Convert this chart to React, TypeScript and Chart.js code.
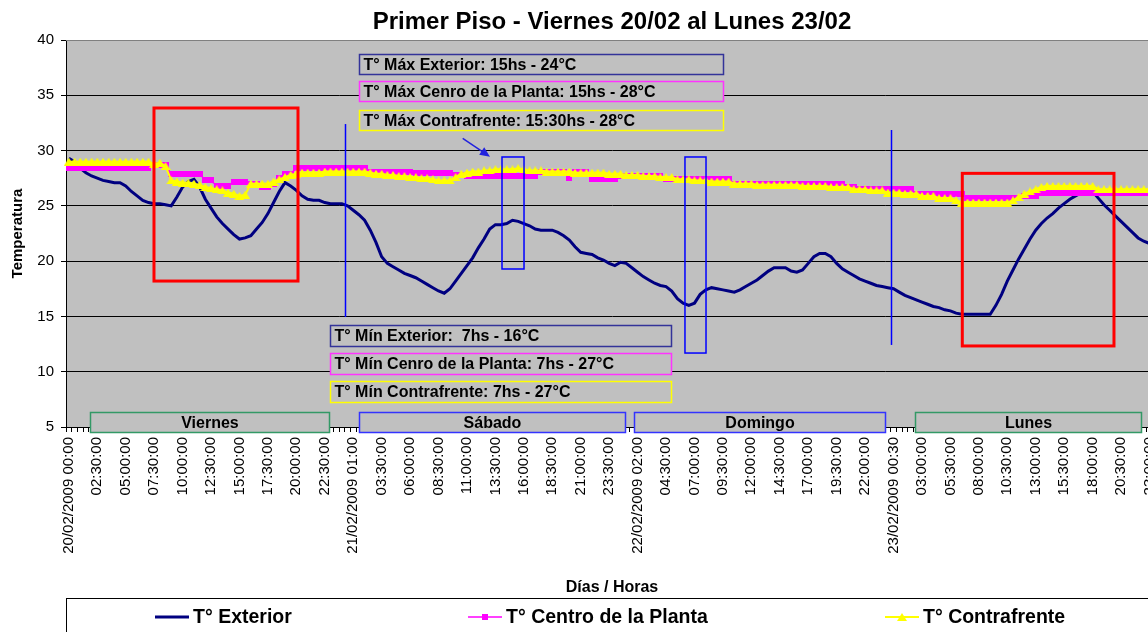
import React, { useEffect, useRef } from 'react';
import { Chart, registerables } from 'chart.js';

Chart.register(...registerables);

// ---------------- DATA ----------------
const TITLE = 'Primer Piso - Viernes 20/02 al Lunes 23/02';
const X_TITLE = 'Días / Horas';
const Y_TITLE = 'Temperatura';
const DAY_DATES = ['20/02/2009', '21/02/2009', '22/02/2009', '23/02/2009'];
const DAY_NAMES = ['Viernes', 'Sábado', 'Domingo', 'Lunes'];

// one category every 30 minutes, 4 days
const CATEGORIES: string[] = [];
DAY_DATES.forEach((d) => {
  for (let h = 0; h < 48; h++) {
    const hh = String(Math.floor(h / 2)).padStart(2, '0');
    const mm = h % 2 ? '30' : '00';
    CATEGORIES.push(`${d} ${hh}:${mm}`);
  }
});

const TICK_EVERY = 5;
const TICK_LABELS = [
  '20/02/2009 00:00', '02:30:00', '05:00:00', '07:30:00', '10:00:00', '12:30:00', '15:00:00', '17:30:00', '20:00:00', '22:30:00',
  '21/02/2009 01:00', '03:30:00', '06:00:00', '08:30:00', '11:00:00', '13:30:00', '16:00:00', '18:30:00', '21:00:00', '23:30:00',
  '22/02/2009 02:00', '04:30:00', '07:00:00', '09:30:00', '12:00:00', '14:30:00', '17:00:00', '19:30:00', '22:00:00',
  '23/02/2009 00:30', '03:00:00', '05:30:00', '08:00:00', '10:30:00', '13:00:00', '15:30:00', '18:00:00', '20:30:00', '23:00:00',
];

const SERIES_NAMES = ['T° Exterior', 'T° Centro de la Planta', 'T° Contrafrente'];

const EXTERIOR = [
  29.3, 29.0, 28.4, 28.0, 27.7, 27.5, 27.3, 27.2, 27.1, 27.1, 26.8, 26.3,
  25.9, 25.5, 25.3, 25.2, 25.2, 25.1, 25.0, 25.8, 26.7, 27.2, 27.4, 26.7,
  25.6, 24.8, 24.0, 23.4, 22.9, 22.4, 22.0, 22.1, 22.3, 22.9, 23.5, 24.3,
  25.3, 26.3, 27.1, 26.8, 26.4, 25.9, 25.6, 25.5, 25.5, 25.3, 25.2, 25.2,
  25.2, 25.0, 24.6, 24.2, 23.7, 22.8, 21.7, 20.4, 19.8, 19.5, 19.2, 18.9,
  18.7, 18.5, 18.2, 17.9, 17.6, 17.3, 17.1, 17.5, 18.2, 18.9, 19.6, 20.3,
  21.2, 22.0, 22.9, 23.3, 23.3, 23.4, 23.7, 23.6, 23.4, 23.2, 22.9, 22.8,
  22.8, 22.8, 22.6, 22.3, 21.9, 21.3, 20.8, 20.7, 20.6, 20.3, 20.1, 19.8,
  19.6, 19.9, 19.8, 19.4, 19.0, 18.6, 18.3, 18.0, 17.8, 17.7, 17.3, 16.6,
  16.2, 16.0, 16.2, 17.0, 17.4, 17.6, 17.5, 17.4, 17.3, 17.2, 17.4, 17.7,
  18.0, 18.3, 18.7, 19.1, 19.4, 19.4, 19.4, 19.1, 19.0, 19.2, 19.8, 20.4,
  20.7, 20.7, 20.4, 19.8, 19.3, 19.0, 18.7, 18.4, 18.2, 18.0, 17.8, 17.7,
  17.6, 17.5, 17.2, 16.9, 16.7, 16.5, 16.3, 16.1, 15.9, 15.8, 15.6, 15.5,
  15.3, 15.2, 15.2, 15.2, 15.2, 15.2, 15.2, 16.0, 17.0, 18.2, 19.2, 20.2,
  21.1, 22.0, 22.8, 23.4, 23.9, 24.3, 24.8, 25.2, 25.6, 25.9, 26.2, 26.4,
  26.3, 25.7, 25.1, 24.6, 24.1, 23.6, 23.1, 22.6, 22.1, 21.8, 21.6, 21.5,
];

const CENTRO = [
  28.4, 28.4, 28.4, 28.4, 28.4, 28.4, 28.4, 28.4, 28.4, 28.4, 28.4, 28.4,
  28.4, 28.4, 28.4, 28.7, 28.7, 28.7, 27.9, 27.9, 27.9, 27.9, 27.9, 27.9,
  27.3, 27.3, 26.8, 26.8, 26.8, 27.2, 27.2, 27.2, 27.0, 27.0, 26.7, 26.7,
  27.0, 27.5, 27.9, 27.9, 28.4, 28.4, 28.4, 28.4, 28.4, 28.4, 28.4, 28.4,
  28.4, 28.4, 28.4, 28.4, 28.4, 28.1, 28.1, 28.1, 28.1, 28.1, 28.1, 28.1,
  28.1, 28.0, 28.0, 28.0, 28.0, 28.0, 28.0, 28.0, 27.8, 27.8, 27.7, 27.7,
  27.7, 27.7, 27.7, 27.7, 27.7, 27.7, 27.7, 27.7, 27.7, 27.7, 27.7, 28.1,
  28.1, 28.1, 28.1, 28.1, 27.5, 28.1, 28.1, 28.1, 27.4, 27.4, 27.4, 27.4,
  27.4, 27.7, 27.7, 27.7, 27.7, 27.7, 27.7, 27.7, 27.7, 27.4, 27.4, 27.4,
  27.4, 27.4, 27.4, 27.4, 27.4, 27.4, 27.4, 27.4, 27.4, 27.0, 27.0, 27.0,
  27.0, 27.0, 27.0, 27.0, 27.0, 27.0, 27.0, 27.0, 27.0, 27.0, 27.0, 27.0,
  27.0, 27.0, 27.0, 27.0, 27.0, 26.7, 26.7, 26.5, 26.5, 26.5, 26.5, 26.5,
  26.5, 26.5, 26.5, 26.5, 26.5, 26.1, 26.1, 26.1, 26.1, 26.1, 26.1, 26.1,
  26.1, 26.1, 25.7, 25.7, 25.7, 25.7, 25.7, 25.7, 25.7, 25.7, 25.7, 25.7,
  25.9, 25.9, 25.9, 26.2, 26.2, 26.2, 26.2, 26.2, 26.2, 26.2, 26.2, 26.2,
  26.2, 26.2, 26.2, 26.2, 26.2, 26.2, 26.2, 26.2, 26.2, 26.2, 26.2, 26.2,
];

const CONTRAFRENTE = [
  29.0, 29.0, 29.0, 29.0, 29.0, 29.0, 29.0, 29.0, 29.0, 29.0, 29.0, 29.0,
  29.0, 29.0, 29.0, 28.8, 28.9, 28.6, 27.3, 27.2, 27.1, 27.1, 27.0, 26.9,
  26.7, 26.6, 26.5, 26.4, 26.2, 26.1, 25.9, 26.0, 27.0, 27.0, 27.0, 27.0,
  27.2, 27.4, 27.6, 27.8, 27.9, 28.0, 28.0, 28.0, 28.0, 28.1, 28.1, 28.1,
  28.1, 28.1, 28.1, 28.1, 28.1, 28.0, 27.9, 27.9, 27.8, 27.8, 27.7, 27.7,
  27.6, 27.6, 27.5, 27.5, 27.4, 27.3, 27.3, 27.3, 27.6, 27.9, 28.0, 28.1,
  28.1, 28.2, 28.2, 28.3, 28.3, 28.3, 28.3, 28.4, 28.3, 28.2, 28.2, 28.2,
  28.1, 28.1, 28.1, 28.1, 28.1, 28.0, 28.0, 28.0, 28.0, 28.0, 28.0, 27.9,
  27.9, 27.9, 27.8, 27.8, 27.8, 27.7, 27.7, 27.7, 27.6, 27.6, 27.6, 27.4,
  27.4, 27.4, 27.3, 27.3, 27.3, 27.2, 27.2, 27.2, 27.2, 27.0, 27.0, 27.0,
  27.0, 26.9, 26.9, 26.9, 26.9, 26.9, 26.9, 26.9, 26.9, 26.8, 26.8, 26.8,
  26.8, 26.8, 26.7, 26.7, 26.7, 26.7, 26.5, 26.5, 26.5, 26.4, 26.4, 26.4,
  26.2, 26.2, 26.2, 26.1, 26.1, 26.1, 25.9, 25.9, 25.9, 25.7, 25.7, 25.7,
  25.5, 25.3, 25.3, 25.3, 25.3, 25.3, 25.3, 25.3, 25.3, 25.3, 25.5, 25.8,
  26.1, 26.3, 26.5, 26.7, 26.8, 26.8, 26.8, 26.8, 26.8, 26.8, 26.8, 26.8,
  26.8, 26.5, 26.5, 26.5, 26.5, 26.5, 26.5, 26.5, 26.5, 26.5, 26.5, 26.5,
];

// annotation boxes (positions in data units: category index / °C)
const NOTES = [
  { text: 'T° Máx Exterior: 15hs - 24°C', x0: 51.0, x1: 115.0, y0: 38.73, y1: 36.93, color: '#333399' },
  { text: 'T° Máx Cenro de la Planta: 15hs - 28°C', x0: 51.0, x1: 115.0, y0: 36.29, y1: 34.48, color: '#FF33FF' },
  { text: 'T° Máx Contrafrente: 15:30hs - 28°C', x0: 51.0, x1: 115.0, y0: 33.67, y1: 31.86, color: '#FFFF00' },
  { text: 'T° Mín Exterior:  7hs - 16°C', x0: 45.9, x1: 105.9, y0: 14.22, y1: 12.33, color: '#333399' },
  { text: 'T° Mín Cenro de la Planta: 7hs - 27°C', x0: 45.9, x1: 105.9, y0: 11.69, y1: 9.79, color: '#FF33FF' },
  { text: 'T° Mín Contrafrente: 7hs - 27°C', x0: 45.9, x1: 105.9, y0: 9.16, y1: 7.26, color: '#FFFF00' },
];
const DAY_BOXES = [
  { x0: 3.7, x1: 45.7, color: '#339966' },
  { x0: 51.0, x1: 97.8, color: '#3333FF' },
  { x0: 99.4, x1: 143.5, color: '#3333FF' },
  { x0: 148.8, x1: 188.5, color: '#339966' },
];
const DAY_BOX_Y = [6.36, 4.55];
const RED_RECTS = [
  { x0: 14.97, x1: 40.29, y0: 33.85, y1: 18.2 },
  { x0: 157.09, x1: 183.76, y0: 27.94, y1: 12.33 },
];
const BLUE_RECTS = [
  { x0: 76.16, x1: 80.03, y0: 29.42, y1: 19.29 },
  { x0: 108.33, x1: 112.03, y0: 29.42, y1: 11.69 },
];
const BLUE_LINES = [
  { x: 48.56, y0: 32.4, y1: 14.95 },
  { x: 144.56, y0: 31.86, y1: 12.42 },
];
const ARROW = { x0: 69.25, y0: 31.11, x1: 74.05, y1: 29.45 };

// ---------------- LAYOUT / STYLE ----------------
const CANVAS_W = 1224;
const CANVAS_H = 660;
const SANS = "'Liberation Sans', Arial, sans-serif";
const PLOT_BG = '#C0C0C0';
const LEGEND_BOX = { x: 66.5, y: 598.5 };
const LEGEND_X = [155, 468, 885];
const LEGEND_Y = 617;
const TITLE_Y = 22;

function makeTriangle(color: string, w: number, h: number) {
  const c = document.createElement('canvas');
  c.width = w;
  c.height = h;
  const g = c.getContext('2d')!;
  g.fillStyle = color;
  g.beginPath();
  g.moveTo(w / 2, 0);
  g.lineTo(w, h);
  g.lineTo(0, h);
  g.closePath();
  g.fill();
  return c;
}
function makeSquare(color: string, s: number) {
  const c = document.createElement('canvas');
  c.width = s;
  c.height = s;
  const g = c.getContext('2d')!;
  g.fillStyle = color;
  g.fillRect(0, 0, s, s);
  return c;
}

const decorPlugin = {
  id: 'decor',
  beforeDraw(chart: any) {
    const { ctx, chartArea: a } = chart;
    ctx.save();
    ctx.fillStyle = '#fff';
    ctx.fillRect(0, 0, chart.width, chart.height);
    ctx.fillStyle = PLOT_BG;
    ctx.fillRect(a.left, a.top, a.right - a.left, a.bottom - a.top);
    ctx.restore();
  },
  afterDraw(chart: any) {
    const { ctx, chartArea: a } = chart;
    const xs = chart.scales.x;
    const ys = chart.scales.y;
    const X = (v: number) => xs.getPixelForValue(v);
    const Y = (v: number) => ys.getPixelForValue(v);
    ctx.save();

    // title, centred over the whole chart
    ctx.fillStyle = '#000';
    ctx.font = `bold 24px ${SANS}`;
    ctx.textAlign = 'center';
    ctx.textBaseline = 'middle';
    ctx.fillText(TITLE, (a.left + a.right) / 2, TITLE_Y);

    // plot top border
    ctx.strokeStyle = '#808080';
    ctx.lineWidth = 1;
    ctx.beginPath();
    ctx.moveTo(a.left, a.top + 0.5);
    ctx.lineTo(a.right, a.top + 0.5);
    ctx.stroke();

    // red rectangles
    ctx.strokeStyle = '#FF0000';
    ctx.lineWidth = 3;
    RED_RECTS.forEach((r) => {
      ctx.strokeRect(X(r.x0), Y(r.y0), X(r.x1) - X(r.x0), Y(r.y1) - Y(r.y0));
    });

    // blue rectangles and lines
    ctx.strokeStyle = '#0000FF';
    ctx.lineWidth = 1.5;
    BLUE_RECTS.forEach((r) => {
      ctx.strokeRect(X(r.x0), Y(r.y0), X(r.x1) - X(r.x0), Y(r.y1) - Y(r.y0));
    });
    BLUE_LINES.forEach((l) => {
      ctx.beginPath();
      ctx.moveTo(Math.round(X(l.x)) + 0.5, Y(l.y0));
      ctx.lineTo(Math.round(X(l.x)) + 0.5, Y(l.y1));
      ctx.stroke();
    });

    // arrow
    {
      const x0 = X(ARROW.x0), y0 = Y(ARROW.y0), x1 = X(ARROW.x1), y1 = Y(ARROW.y1);
      const ang = Math.atan2(y1 - y0, x1 - x0);
      ctx.strokeStyle = '#2222DD';
      ctx.fillStyle = '#2222DD';
      ctx.lineWidth = 1.5;
      ctx.beginPath();
      ctx.moveTo(x0, y0);
      ctx.lineTo(x1 - Math.cos(ang) * 6, y1 - Math.sin(ang) * 6);
      ctx.stroke();
      ctx.beginPath();
      ctx.moveTo(x1, y1);
      ctx.lineTo(x1 - Math.cos(ang) * 10 + Math.sin(ang) * 4.5, y1 - Math.sin(ang) * 10 - Math.cos(ang) * 4.5);
      ctx.lineTo(x1 - Math.cos(ang) * 10 - Math.sin(ang) * 4.5, y1 - Math.sin(ang) * 10 + Math.cos(ang) * 4.5);
      ctx.closePath();
      ctx.fill();
    }

    // note boxes
    ctx.font = `bold 16px ${SANS}`;
    ctx.textBaseline = 'middle';
    ctx.textAlign = 'left';
    NOTES.forEach((n) => {
      const x0 = Math.round(X(n.x0)) + 0.5, x1 = Math.round(X(n.x1)) + 0.5;
      const y0 = Math.round(Y(n.y0)) + 0.5, y1 = Math.round(Y(n.y1)) + 0.5;
      ctx.fillStyle = PLOT_BG;
      ctx.fillRect(x0, y0, x1 - x0, y1 - y0);
      ctx.strokeStyle = n.color;
      ctx.lineWidth = 1.5;
      ctx.strokeRect(x0, y0, x1 - x0, y1 - y0);
      ctx.fillStyle = '#000';
      ctx.fillText(n.text, x0 + 4, (y0 + y1) / 2 + 1);
    });

    // day boxes
    ctx.textAlign = 'center';
    DAY_BOXES.forEach((b, k) => {
      const x0 = Math.round(X(b.x0)) + 0.5, x1 = Math.round(X(b.x1)) + 0.5;
      const y0 = Math.round(Y(DAY_BOX_Y[0])) + 0.5, y1 = Math.round(Y(DAY_BOX_Y[1])) + 0.5;
      ctx.fillStyle = PLOT_BG;
      ctx.fillRect(x0, y0, x1 - x0, y1 - y0);
      ctx.strokeStyle = b.color;
      ctx.lineWidth = 1.5;
      ctx.strokeRect(x0, y0, x1 - x0, y1 - y0);
      ctx.fillStyle = '#000';
      ctx.fillText(DAY_NAMES[k], (x0 + x1) / 2, (y0 + y1) / 2 + 1);
    });

    // legend
    ctx.fillStyle = '#fff';
    ctx.strokeStyle = '#000';
    ctx.lineWidth = 1;
    ctx.fillRect(LEGEND_BOX.x, LEGEND_BOX.y, chart.width, 80);
    ctx.strokeRect(LEGEND_BOX.x, LEGEND_BOX.y, chart.width, 80);
    ctx.font = `bold 19.5px ${SANS}`;
    ctx.textAlign = 'left';
    ctx.textBaseline = 'middle';
    chart.data.datasets.forEach((ds: any, k: number) => {
      const x0 = LEGEND_X[k];
      const y = LEGEND_Y;
      ctx.strokeStyle = ds.borderColor;
      ctx.lineWidth = ds.borderWidth;
      ctx.beginPath();
      ctx.moveTo(x0, y);
      ctx.lineTo(x0 + 34, y);
      ctx.stroke();
      const cx = x0 + 17;
      if (ds.pointStyle && typeof ds.pointStyle === 'object') {
        const im = ds.pointStyle as HTMLCanvasElement;
        ctx.drawImage(im, Math.round(cx - im.width / 2), Math.round(y - im.height / 2));
      }
      ctx.fillStyle = '#000';
      ctx.fillText(ds.label, x0 + 38, y + 1);
    });
    ctx.restore();
  },
};

export default function App() {
  const ref = useRef<HTMLCanvasElement | null>(null);

  useEffect(() => {
    if (!ref.current) return;
    const square = makeSquare('#FF00FF', 6);
    const triangle = makeTriangle('#FFFF00', 10, 8);
    const chart = new Chart(ref.current, {
      type: 'line',
      data: {
        labels: CATEGORIES,
        datasets: [
          {
            label: SERIES_NAMES[0],
            data: EXTERIOR,
            borderColor: '#000080',
            borderWidth: 3,
            pointRadius: 0,
            order: 3,
          },
          {
            label: SERIES_NAMES[1],
            data: CENTRO,
            borderColor: '#FF00FF',
            borderWidth: 1.5,
            pointStyle: square,
            pointRadius: 4,
            order: 2,
          },
          {
            label: SERIES_NAMES[2],
            data: CONTRAFRENTE,
            borderColor: '#FFFF00',
            borderWidth: 2,
            pointStyle: triangle,
            pointRadius: 4,
            order: 1,
          },
        ] as any,
      },
      options: {
        responsive: false,
        animation: false,
        devicePixelRatio: 1,
        layout: { padding: { left: 0, right: 66, top: 40, bottom: 63 } },
        elements: { line: { tension: 0 } },
        plugins: {
          legend: { display: false },
          tooltip: { enabled: false },
          title: { display: false },
        },
        scales: {
          x: {
            type: 'category',
            offset: true,
            grid: {
              display: true,
              drawOnChartArea: false,
              drawTicks: true,
              tickLength: 5,
              offset: true,
              color: '#000',
            },
            border: { display: true, color: '#000', width: 1 },
            ticks: {
              autoSkip: false,
              minRotation: 90,
              maxRotation: 90,
              padding: 5,
              color: '#000',
              font: { family: SANS, size: 15 },
              callback: (_v: any, i: number) => (i % TICK_EVERY === 0 ? TICK_LABELS[i / TICK_EVERY] : ''),
            },
            title: {
              display: true,
              text: X_TITLE,
              color: '#000',
              font: { family: SANS, size: 16, weight: 'bold' },
              padding: { top: 0, bottom: 0 },
            },
            afterFit: (s: any) => {
              s.height = 170;
            },
          },
          y: {
            min: 5,
            max: 40,
            ticks: {
              stepSize: 5,
              padding: 7,
              color: '#000',
              font: { family: SANS, size: 15 },
            },
            grid: { color: '#000', lineWidth: 1, drawTicks: true, tickLength: 5 },
            border: { display: true, color: '#000', width: 1 },
            title: {
              display: true,
              text: Y_TITLE,
              color: '#000',
              font: { family: SANS, size: 15, weight: 'bold' },
              padding: { top: 9, bottom: 0 },
            },
            afterFit: (s: any) => {
              s.width = 66;
            },
          },
        },
      } as any,
      plugins: [decorPlugin],
    });
    return () => chart.destroy();
  }, []);

  return (
    <div
      style={{
        position: 'fixed',
        left: 0,
        top: 0,
        width: 1148,
        height: 632,
        overflow: 'hidden',
        background: '#fff',
      }}
    >
      <canvas
        ref={ref}
        width={CANVAS_W}
        height={CANVAS_H}
        style={{ display: 'block', width: CANVAS_W, height: CANVAS_H }}
      />
    </div>
  );
}
